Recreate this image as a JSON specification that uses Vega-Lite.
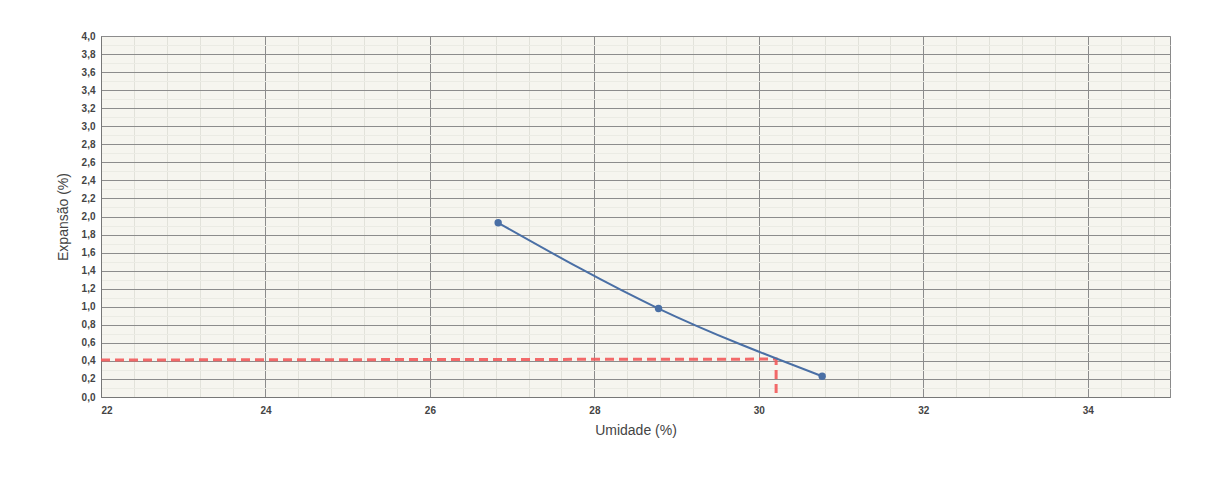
{
  "$schema": "https://vega.github.io/schema/vega-lite/v6.json",
  "width": 1069,
  "height": 361,
  "autosize": {"type": "none"},
  "padding": {"left": 101, "top": 36, "right": 39, "bottom": 93},
  "background": "white",
  "config": {
    "view": {"fill": "#f6f5ef", "stroke": "#8a8a8a", "strokeWidth": 1},
    "font": "Liberation Sans"
  },
  "datasets": {
    "pts": [
      {"umidade": 26.83, "expansao": 1.93},
      {"umidade": 28.78, "expansao": 0.98},
      {"umidade": 30.77, "expansao": 0.23}
    ],
    "ref": [
      {"umidade": 22.0, "expansao": 0.41, "ordem": 1},
      {"umidade": 30.21, "expansao": 0.42, "ordem": 2},
      {"umidade": 30.21, "expansao": 0.0, "ordem": 3}
    ]
  },
  "resolve": {"axis": {"x": "independent", "y": "independent"}},
  "layer": [
    {
      "data": {"name": "pts"},
      "mark": {"type": "point", "opacity": 0},
      "encoding": {
        "x": {"field": "umidade", "type": "quantitative", "scale": {"domain": [22, 35], "nice": false, "zero": false},
          "axis": {"orient": "bottom", "values": [22.4,22.8,23.2,23.6,24.4,24.8,25.2,25.6,26.4,26.8,27.2,27.6,28.4,28.8,29.2,29.6,30.4,30.8,31.2,31.6,32.4,32.8,33.2,33.6,34.4,34.8], "labels": false, "ticks": false, "domain": false, "title": null, "grid": true, "gridColor": "#e2e2da", "gridWidth": 1}},
        "y": {"field": "expansao", "type": "quantitative", "scale": {"domain": [0, 4], "nice": false},
          "axis": {"orient": "left", "values": [0.1,0.3,0.5,0.7,0.9,1.1,1.3,1.5,1.7,1.9,2.1,2.3,2.5,2.7,2.9,3.1,3.3,3.5,3.7,3.9], "labels": false, "ticks": false, "domain": false, "title": null, "grid": true, "gridColor": "#ebebe4", "gridWidth": 1}}
      }
    },
    {
      "data": {"name": "ref"},
      "mark": {"type": "line", "color": "#f25a5a", "strokeWidth": 3, "strokeDash": [9, 5], "opacity": 0.9},
      "encoding": {
        "x": {"field": "umidade", "type": "quantitative",
          "axis": {"orient": "bottom", "values": [22,24,26,28,30,32,34], "title": "Umidade (%)", "titleFont": "Liberation Sans", "titleFontSize": 14, "titleFontWeight": "normal", "titleColor": "#444444", "titlePadding": 8,
            "labelFont": "Liberation Sans", "labelFontSize": 10, "labelFontWeight": "bold", "labelColor": "#444444", "labelPadding": 8,
            "ticks": false, "domain": true, "domainColor": "#777777", "grid": true, "gridColor": "#8c8c8c", "gridWidth": 1}},
        "y": {"field": "expansao", "type": "quantitative",
          "axis": {"orient": "left", "values": [0,0.2,0.4,0.6,0.8,1.0,1.2,1.4,1.6,1.8,2.0,2.2,2.4,2.6,2.8,3.0,3.2,3.4,3.6,3.8,4.0],
            "labelExpr": "replace(format(datum.value, '.1f'), '.', ',')", "title": "Expansão (%)", "titleFont": "Liberation Sans", "titleFontSize": 14, "titleFontWeight": "normal", "titleColor": "#444444", "titlePadding": 11,
            "labelFont": "Liberation Sans", "labelFontSize": 10, "labelFontWeight": "bold", "labelColor": "#444444", "labelPadding": 6,
            "ticks": false, "domain": true, "domainColor": "#777777", "grid": true, "gridColor": "#8c8c8c", "gridWidth": 1}},
        "order": {"field": "ordem", "type": "quantitative"}
      }
    },
    {
      "data": {"name": "pts"},
      "mark": {"type": "line", "color": "#4a6fa5", "strokeWidth": 2, "interpolate": "monotone", "point": {"filled": true, "size": 55, "color": "#4a6fa5"}},
      "encoding": {
        "x": {"field": "umidade", "type": "quantitative", "axis": null},
        "y": {"field": "expansao", "type": "quantitative", "axis": null}
      }
    }
  ]
}
